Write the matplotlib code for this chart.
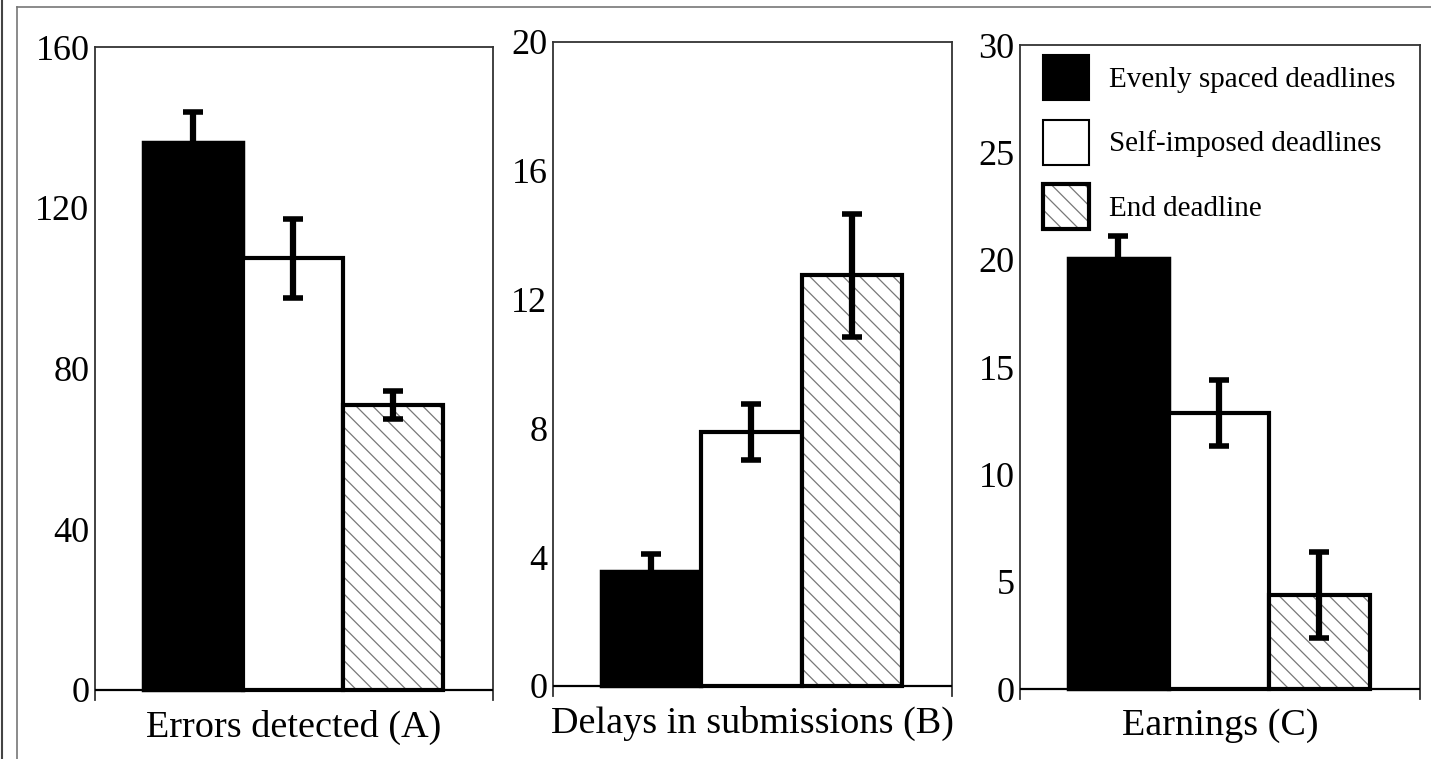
import matplotlib
matplotlib.use("Agg")
import matplotlib.pyplot as plt
from matplotlib.patches import Patch
from matplotlib.lines import Line2D

plt.rcParams['font.family'] = ['Liberation Serif', 'DejaVu Serif']
plt.rcParams['hatch.linewidth'] = 0.9

# données
conditions = ["Evenly spaced deadlines", "Self-imposed deadlines", "End deadline"]

errors_mean = [136.3, 107.4, 70.9]
errors_err = [7.5, 9.9, 3.4]
errors_ticks = [0, 40, 80, 120, 160]

delays_mean = [3.57, 7.89, 12.76]
delays_err = [0.53, 0.86, 1.91]
delays_ticks = [0, 4, 8, 12, 16, 20]

earnings_mean = [20.1, 12.86, 4.38]
earnings_err = [1.0, 1.52, 2.0]
earnings_ticks = [0, 5, 10, 15, 20, 25, 30]

panel_labels = ["Errors detected (A)", "Delays in submissions (B)", "Earnings (C)"]

W, H = 1431, 759
fig = plt.figure(figsize=(W / 100, H / 100), dpi=100)


def make_axes(left, right, top, zero, ymax):
    # position en pixels -> fraction de la figure, le cadre descend ~10 px sous zéro
    ext = 10
    bottom = zero + ext
    ax = fig.add_axes([left / W, (H - bottom) / H, (right - left) / W, (bottom - top) / H])
    per_unit = (zero - top) / ymax
    ax.set_ylim(-ext / per_unit, ymax)
    return ax


def draw_panel(ax, means, errs, ticks, label):
    x = [0, 1, 2]
    ax.bar(x[0], means[0], width=1.0, color='black', edgecolor='black', linewidth=2.5, zorder=2)
    ax.bar(x[1], means[1], width=1.0, color='white', edgecolor='black', linewidth=3, zorder=2)
    # hachures grises, puis contour noir par-dessus
    ax.bar(x[2], means[2], width=1.0, color='white', edgecolor='#777777', hatch='\\\\',
           linewidth=0, zorder=2)
    ax.bar(x[2], means[2], width=1.0, fill=False, edgecolor='black', linewidth=3, zorder=3)
    ax.errorbar(x, means, yerr=errs, fmt='none', ecolor='black', elinewidth=4.5,
                capsize=7.5, capthick=4, zorder=5)
    ax.axhline(0, color='black', linewidth=1.6, zorder=4)

    ax.set_xlim(-0.98, 3.0)
    ax.set_xticks([])
    ax.set_yticks(ticks)
    ax.tick_params(axis='y', length=0, pad=4, labelsize=26)
    ax.spines['bottom'].set_visible(False)
    for side in ['left', 'right', 'top']:
        ax.spines[side].set_color('#333333')
        ax.spines[side].set_linewidth(1.3)
    ax.set_xlabel(label, fontsize=27.5, labelpad=7)


ax_a = make_axes(95, 493, 47, 690, 160)
draw_panel(ax_a, errors_mean, errors_err, errors_ticks, panel_labels[0])

ax_b = make_axes(553, 952, 42, 686, 20)
draw_panel(ax_b, delays_mean, delays_err, delays_ticks, panel_labels[1])

ax_c = make_axes(1020, 1420, 45, 689, 30)
draw_panel(ax_c, earnings_mean, earnings_err, earnings_ticks, panel_labels[2])

# légende dans le troisième panneau
h_black = Patch(facecolor='black', edgecolor='black', linewidth=1.5)
h_white = Patch(facecolor='white', edgecolor='black', linewidth=1.5)
h_hatch = (Patch(facecolor='white', edgecolor='#777777', hatch='\\\\', linewidth=0),
           Patch(fill=False, edgecolor='black', linewidth=3))
ax_c.legend([h_black, h_white, h_hatch], conditions, loc='upper left',
            bbox_to_anchor=(23 / 400, 1 - 10 / 654), frameon=False, fontsize=21,
            handlelength=1.57, handleheight=2.0, labelspacing=0.67, handletextpad=0.68,
            borderpad=0, borderaxespad=0)

# cadre de la page scannée
fig.add_artist(Line2D([1.5 / W, 1.5 / W], [0, 1], color='#444444', linewidth=1.5))
fig.add_artist(Line2D([17 / W, 17 / W], [0, (H - 7) / H], color='#777777', linewidth=1.2))
fig.add_artist(Line2D([17 / W, 1], [(H - 7) / H, (H - 7) / H], color='#777777', linewidth=1.2))

fig.savefig("out.png", dpi=100)
